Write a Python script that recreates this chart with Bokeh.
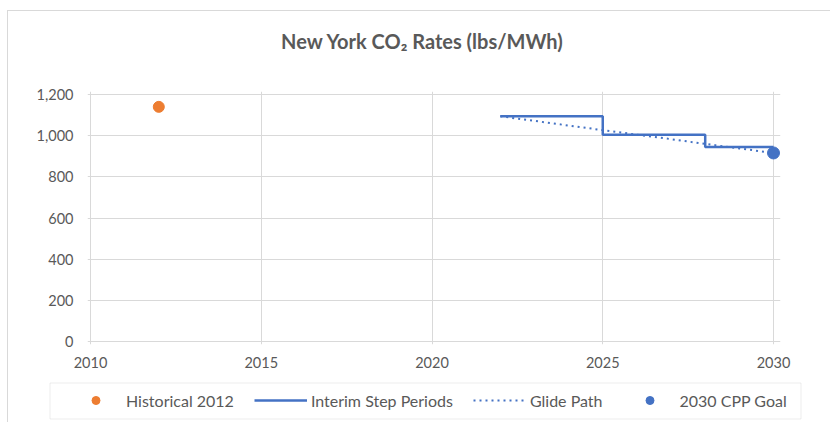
from bokeh.plotting import figure
from bokeh.layouts import column
from bokeh.models import (Range1d, FixedTicker, NumeralTickFormatter, Legend,
                          LegendItem, BoxAnnotation, Label)
from bokeh.embed import file_html
from bokeh.resources import INLINE

# ---- data ----
hist_year = [2012]
hist_value = [1140]

step_start = [2022, 2025, 2028]
step_end = [2025, 2028, 2030]
step_value = [1094, 1005, 945]

glide_year = [2022, 2023, 2024, 2025, 2026, 2027, 2028, 2029, 2030]
glide_value = [1094, 1072, 1049, 1027, 1005, 983, 960, 938, 916]

goal_year = [2030]
goal_value = [916]

x_ticks = [2010, 2015, 2020, 2025, 2030]
y_ticks = [0, 200, 400, 600, 800, 1000, 1200]

title_text = "New York CO\u2082 Rates (lbs/MWh)"
legend_labels = ["Historical 2012", "Interim Step Periods", "Glide Path", "2030 CPP Goal"]

ORANGE = "#ED7D31"
BLUE = "#4472C4"
GRID = "#d9d9d9"
TEXT = "#595959"
FONT = "Lato"

TW, TH = 830, 80      # title strip
W, H = 830, 300       # chart
LW, LH = 830, 42      # legend strip


def no_align(fig):
    if "frame_align" in fig.properties():
        fig.frame_align = False


# ---- title strip ----
tf = figure(width=TW, height=TH, output_backend="svg", toolbar_location=None, tools="",
            x_axis_type=None, y_axis_type=None, min_border=0, title=None,
            x_range=Range1d(0, TW), y_range=Range1d(0, TH))
no_align(tf)
tf.outline_line_color = None
tf.background_fill_color = None
tf.border_fill_color = None
tf.add_layout(Label(x=TW / 2 + 7, y=TH - 40, text=title_text, text_align="center",
                    text_baseline="middle", text_font=FONT, text_font_style="bold",
                    text_font_size="20px", text_color=TEXT))

# ---- chart ----
px_per_year = (773 - 90) / (max(x_ticks) - min(x_ticks))
px_per_unit = (341 - 94) / (max(y_ticks) - min(y_ticks))
p = figure(width=W, height=H, output_backend="svg", toolbar_location=None, tools="",
           title=None,
           x_range=Range1d(min(x_ticks) - 3 / px_per_year, max(x_ticks) + 7 / px_per_year),
           y_range=Range1d(min(y_ticks) - 3 / px_per_unit, max(y_ticks) + 3 / px_per_unit),
           min_border_left=87, min_border_right=50, min_border_top=11, min_border_bottom=36)
no_align(p)

p.background_fill_color = "white"
p.border_fill_color = None
p.outline_line_color = None

for ax in (p.xaxis[0], p.yaxis[0]):
    ax.axis_line_color = None
    ax.major_tick_line_color = None
    ax.minor_tick_line_color = None
    ax.major_tick_out = 0
    ax.major_tick_in = 0
    ax.major_label_text_font = FONT
    ax.major_label_text_font_size = "14.5px"
    ax.major_label_text_color = TEXT

p.xaxis[0].ticker = FixedTicker(ticks=x_ticks)
p.yaxis[0].ticker = FixedTicker(ticks=y_ticks)
p.yaxis[0].formatter = NumeralTickFormatter(format="0,0")
p.xaxis[0].major_label_standoff = 12
p.yaxis[0].major_label_standoff = 14

p.xgrid[0].ticker = FixedTicker(ticks=x_ticks)
p.ygrid[0].ticker = FixedTicker(ticks=y_ticks)
p.xgrid[0].grid_line_color = GRID
p.ygrid[0].grid_line_color = GRID

# step line built from step periods
sx, sy = [], []
for s, e, v in zip(step_start, step_end, step_value):
    sx += [s, e]
    sy += [v, v]

step_style = dict(line_color=BLUE, line_width=2.5)
glide_style = dict(line_color=BLUE, line_width=2, line_dash="2 4")
hist_style = dict(size=11, marker="circle", fill_color=ORANGE, line_color=ORANGE)
goal_style = dict(size=12, marker="circle", fill_color=BLUE, line_color=BLUE)

p.line(sx, sy, **step_style)
p.line(glide_year, glide_value, **glide_style)
p.scatter(hist_year, hist_value, **hist_style)
p.scatter(goal_year, goal_value, **goal_style)

# ---- legend strip ----
lg = figure(width=LW, height=LH, output_backend="svg", toolbar_location=None, tools="",
            x_axis_type=None, y_axis_type=None, min_border=0, title=None,
            x_range=Range1d(0, LW), y_range=Range1d(0, LH))
no_align(lg)
lg.outline_line_color = None
lg.background_fill_color = None
lg.border_fill_color = None

# off-screen proxies that only provide the legend swatches
lr_hist = lg.scatter([-100], [-100], **hist_style)
lr_step = lg.line([-100, -90], [-100, -100], **step_style)
lr_glide = lg.line([-100, -90], [-100, -100], **glide_style)
lr_goal = lg.scatter([-100], [-100], **goal_style)

lg.add_layout(BoxAnnotation(left=49.5, right=800.5, top=39.5, bottom=3.5,
                            fill_color="white", fill_alpha=1,
                            line_color="#bfbfbf", line_width=1, editable=False))

legend = Legend(items=[
    LegendItem(label=legend_labels[0], renderers=[lr_hist]),
    LegendItem(label=legend_labels[1], renderers=[lr_step]),
    LegendItem(label=legend_labels[2], renderers=[lr_glide]),
    LegendItem(label=legend_labels[3], renderers=[lr_goal]),
], orientation="horizontal", location=(69, 12))
legend.padding = 0
legend.margin = 0
legend.glyph_width = 53
legend.glyph_height = 20
legend.label_height = 20
legend.label_standoff = 4
legend.spacing = 20
legend.border_line_color = None
legend.background_fill_alpha = 0
legend.label_text_font = FONT
legend.label_text_font_size = "16px"
legend.label_text_color = TEXT
lg.add_layout(legend, "center")

frame_css = {
    "background-image": "linear-gradient(#d9d9d9, #d9d9d9), linear-gradient(#d9d9d9, #d9d9d9)",
    "background-size": "100% 1px, 1px 100%",
    "background-position": "7px 10px, 7px 10px",
    "background-repeat": "no-repeat",
}
layout = column(tf, p, lg, spacing=0, styles=frame_css)

open("out.html", "w").write(file_html(layout, INLINE))
